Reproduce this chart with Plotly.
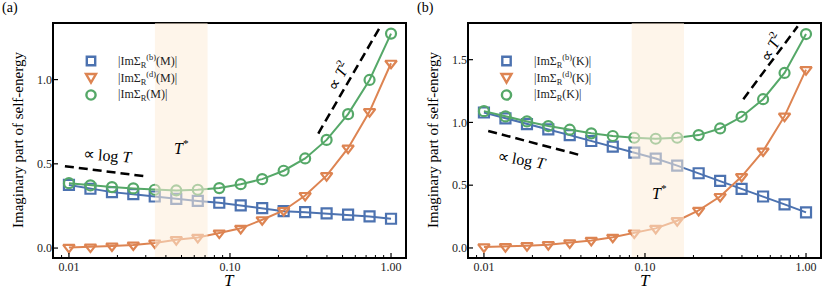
import plotly.graph_objects as go

# ---------------- data ----------------
T = [0.01, 0.0136, 0.0185, 0.0251, 0.0341, 0.0464, 0.0631, 0.0858,
     0.1166, 0.1585, 0.2154, 0.2929, 0.3981, 0.5412, 0.7356, 1.0]

a_b = [0.375, 0.352, 0.332, 0.320, 0.306, 0.292, 0.280, 0.269,
       0.253, 0.237, 0.219, 0.213, 0.206, 0.198, 0.188, 0.174]
a_d = [0.004, 0.006, 0.012, 0.018, 0.030, 0.050, 0.063, 0.089,
       0.117, 0.168, 0.223, 0.312, 0.430, 0.593, 0.810, 1.097]
a_t = [0.385, 0.372, 0.362, 0.354, 0.346, 0.342, 0.346, 0.356,
       0.379, 0.409, 0.459, 0.532, 0.642, 0.795, 0.998, 1.273]

b_b = [1.079, 1.032, 0.987, 0.944, 0.899, 0.852, 0.807, 0.759,
       0.712, 0.656, 0.595, 0.534, 0.471, 0.410, 0.347, 0.283]
b_d = [0.008, 0.010, 0.018, 0.026, 0.040, 0.060, 0.085, 0.119,
       0.156, 0.217, 0.299, 0.410, 0.569, 0.772, 1.050, 1.420]
b_t = [1.090, 1.048, 1.008, 0.971, 0.942, 0.913, 0.892, 0.878,
       0.870, 0.878, 0.899, 0.952, 1.045, 1.185, 1.394, 1.704]

# T* shaded windows
a_band = [0.0342, 0.0726]
b_band = [0.0827, 0.1747]

# guide lines (T, value)
a_log_T = [0.00944, 0.029]
a_log_y = [0.486, 0.427]
a_sq_T = [0.3534, 0.855]
a_sq_y = [0.680, 1.312]
b_log_T = [0.01063, 0.0394]
b_log_y = [0.932, 0.740]
b_sq_T = [0.408, 0.888]
b_sq_y = [1.184, 1.767]

x_tickvals = [0.01, 0.1, 1.0]
x_ticktext = ["0.01", "0.10", "1.00"]
y_tickvals_a = [0.0, 0.5, 1.0]
y_ticktext_a = ["0.0", "0.5", "1.0"]
y_tickvals_b = [0.0, 0.5, 1.0, 1.5]
y_ticktext_b = ["0.0", "0.5", "1.0", "1.5"]
minor_vals = [m * 10 ** e for e in (-3, -2, -1) for m in range(2, 10)]

# ---------------- style ----------------
BLUE = "#4c72b0"
ORANGE = "#dd8452"
GREEN = "#55a868"
FONT = "Liberation Serif"
W, H = 831, 297
XR = [-2.099, 0.093]
XD1 = [53 / W, 406 / W]
XD2 = [468 / W, 821 / W]
YD = [39 / H, 274 / H]

fig = go.Figure()

panels = [
    dict(xa="x", ya="y", pt="M", vals=(a_b, a_d, a_t), band=a_band,
         guides=[(a_log_T, a_log_y), (a_sq_T, a_sq_y)],
         ytv=y_tickvals_a, leg_mx=91, leg_tx=116),
    dict(xa="x2", ya="y2", pt="K", vals=(b_b, b_d, b_t), band=b_band,
         guides=[(b_log_T, b_log_y), (b_sq_T, b_sq_y)],
         ytv=y_tickvals_b, leg_mx=506.5, leg_tx=531.5),
]
styles = [(BLUE, "square-open"), (ORANGE, "triangle-down-open"), (GREEN, "circle-open")]

for p in panels:
    for vals, (col, sym) in zip(p["vals"], styles):
        fig.add_trace(go.Scatter(
            x=T, y=vals, mode="lines+markers", xaxis=p["xa"], yaxis=p["ya"],
            line=dict(color=col, width=2),
            marker=dict(symbol=sym, size=10, color=col,
                        line=dict(color=col, width=2.2)),
            showlegend=False, hoverinfo="skip"))
    for gx, gy in p["guides"]:
        fig.add_trace(go.Scatter(x=gx, y=gy, mode="lines", xaxis=p["xa"], yaxis=p["ya"],
                                 line=dict(color="black", width=2.5, dash="9px,5px"),
                                 showlegend=False, hoverinfo="skip"))

# ---- frames, bands, ticks (as shapes) ----
for p in panels:
    xa, ya = p["xa"], p["ya"]
    xd, yd = xa + " domain", ya + " domain"
    fig.add_shape(type="rect", xref=xd, yref=yd, x0=0, x1=1, y0=0, y1=1,
                  line=dict(color="black", width=2), fillcolor="rgba(0,0,0,0)",
                  layer="above")
    fig.add_shape(type="rect", xref=xa, yref=yd, x0=p["band"][0], x1=p["band"][1],
                  y0=0, y1=1, fillcolor="rgba(253,236,216,0.55)",
                  line=dict(width=0), layer="above")
    fig.add_shape(type="line", xref=xd, yref=yd, x0=0, x1=1, y0=0, y1=0,
                  line=dict(color="black", width=2), layer="above")
    for v in x_tickvals:
        fig.add_shape(type="line", xref=xa, yref=yd, x0=v, x1=v,
                      ysizemode="pixel", yanchor=0, y0=0, y1=5,
                      line=dict(color="black", width=1.2), layer="above")
    for v in minor_vals:
        if 10 ** XR[0] < v < 10 ** XR[1]:
            fig.add_shape(type="line", xref=xa, yref=yd, x0=v, x1=v,
                          ysizemode="pixel", yanchor=0, y0=0, y1=3,
                          line=dict(color="black", width=1), layer="above")
    for v in p["ytv"]:
        fig.add_shape(type="line", xref=xd, yref=ya, y0=v, y1=v,
                      xsizemode="pixel", xanchor=0, x0=0, x1=5,
                      line=dict(color="black", width=1.2), layer="above")

# ---- legends (manual) ----
leg_rows = [61, 78, 95]
for p in panels:
    pt = p["pt"]
    names = [
        f"|ImΣ<sub>R</sub><sup>(b)</sup>({pt})|",
        f"|ImΣ<sub>R</sub><sup>(d)</sup>({pt})|",
        f"|ImΣ<sub>R</sub>({pt})|",
    ]
    mx = p["leg_mx"] / W
    for (col, sym), nm, ry in zip(styles, names, leg_rows):
        yc = 1 - ry / H
        common = dict(xref="paper", yref="paper", xsizemode="pixel", ysizemode="pixel",
                      xanchor=mx, yanchor=yc, line=dict(color=col, width=2.4),
                      fillcolor="rgba(0,0,0,0)", layer="above")
        if sym == "square-open":
            fig.add_shape(type="rect", x0=-4.2, x1=4.2, y0=-4.2, y1=4.2, **common)
        elif sym == "circle-open":
            fig.add_shape(type="circle", x0=-4.6, x1=4.6, y0=-4.6, y1=4.6, **common)
        else:
            fig.add_shape(type="path", path="M -5,4 L 5,4 L 0,-4.6 Z", **common)
        fig.add_annotation(xref="paper", yref="paper", x=p["leg_tx"] / W, y=yc,
                           xanchor="left", yanchor="middle", text=nm, showarrow=False,
                           font=dict(family=FONT, size=12, color="#222"))

axis_common = dict(
    showline=False, ticks="", showgrid=False, zeroline=False,
    automargin=False, fixedrange=True,
    tickfont=dict(family=FONT, size=12, color="#222"),
)
xcommon = dict(axis_common, type="log", range=XR,
               tickmode="array", tickvals=x_tickvals, ticktext=x_ticktext)

fig.update_layout(
    width=W, height=H, margin=dict(l=0, r=0, t=0, b=0),
    plot_bgcolor="white", paper_bgcolor="white",
    font=dict(family=FONT, color="black"),
    showlegend=False,
    xaxis=dict(xcommon, domain=XD1, anchor="y"),
    yaxis=dict(axis_common, domain=YD, anchor="x", range=[-0.059, 1.336],
               tickmode="array", tickvals=y_tickvals_a, ticktext=y_ticktext_a),
    xaxis2=dict(xcommon, domain=XD2, anchor="y2"),
    yaxis2=dict(axis_common, domain=YD, anchor="x2", range=[-0.08, 1.792],
                tickmode="array", tickvals=y_tickvals_b, ticktext=y_ticktext_b),
)

annots = [
    ("x", "y", -1.758, 0.545, "∝ log <i>T</i>", 4),
    ("x", "y", -1.30, 0.60, "<i>T</i><sup>*</sup>", 0),
    ("x", "y", -0.329, 1.025, "∝ <i>T</i><sup>2</sup>", -60),
    ("x2", "y2", -1.766, 0.70, "∝ log <i>T</i>", 10),
    ("x2", "y2", -0.907, 0.448, "<i>T</i><sup>*</sup>", 0),
    ("x2", "y2", -0.224, 1.603, "∝ <i>T</i><sup>2</sup>", -60),
]
for xr, yr, ax, ay, txt, ang in annots:
    fig.add_annotation(xref=xr, yref=yr, x=ax, y=ay, text=txt, textangle=ang,
                       xanchor="center", yanchor="middle",
                       showarrow=False, font=dict(family=FONT, size=16, color="black"))

# panel labels and axis titles
for px, lab in [(0, "(a)"), (415, "(b)")]:
    fig.add_annotation(xref="paper", yref="paper", x=px / W, y=1 - 8 / H,
                       xanchor="left", yanchor="middle", text=lab, showarrow=False,
                       font=dict(family=FONT, size=14, color="black"))
for cx in [230, 645]:
    fig.add_annotation(xref="paper", yref="paper", x=cx / W, y=1 - 280 / H,
                       xanchor="center", yanchor="middle",
                       text="<i>T</i>", showarrow=False,
                       font=dict(family=FONT, size=17, color="black"))
for cx in [18, 433]:
    fig.add_annotation(xref="paper", yref="paper", x=cx / W, y=1 - 140 / H,
                       xanchor="center", yanchor="middle",
                       text="Imaginary part of self-energy", textangle=-90,
                       showarrow=False, font=dict(family=FONT, size=15, color="black"))

fig.write_html("out.html", config={"displayModeBar": False, "staticPlot": True},
               post_script="document.body.style.margin='0';document.body.style.padding='0';")
